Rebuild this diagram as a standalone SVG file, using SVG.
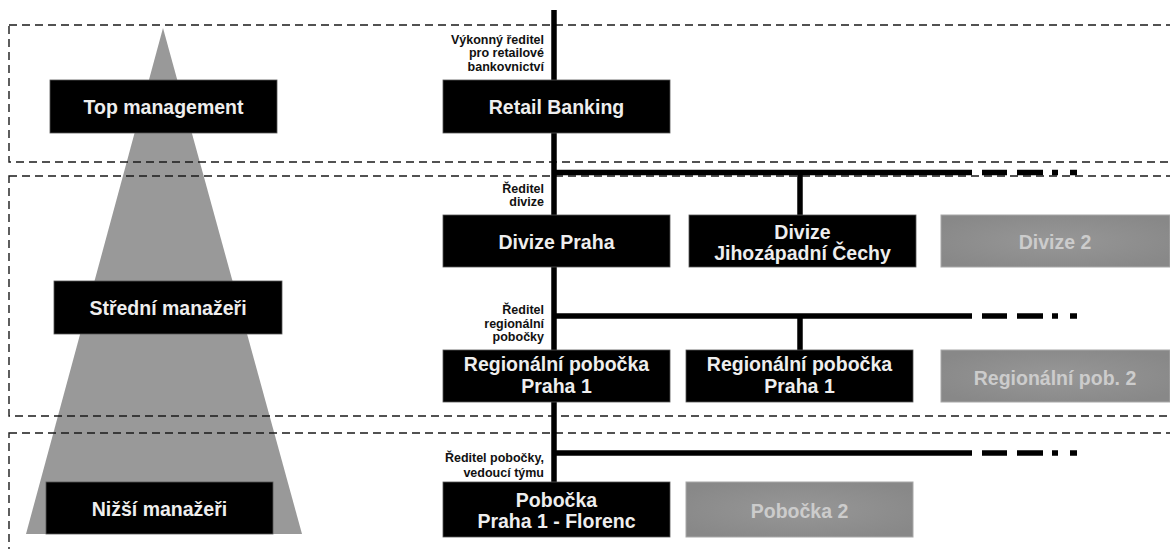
<svg xmlns="http://www.w3.org/2000/svg" width="1170" height="549" viewBox="0 0 1170 549">
<defs>
<radialGradient id="gg" cx="50%" cy="50%" r="60%">
<stop offset="0" stop-color="#979797"/>
<stop offset="1" stop-color="#888888"/>
</radialGradient>
</defs>
<style>
.zone{fill:none;stroke:#1a1a1a;stroke-width:1.4;stroke-dasharray:8 5}
.blk{fill:#000;stroke:#555;stroke-width:0.8}
.gry{fill:url(#gg);stroke:#a8a8a8;stroke-width:1}
.t{font-family:"Liberation Sans",Arial,sans-serif;font-weight:bold;font-size:19.5px;text-anchor:middle;fill:#eeeeee}
.tg{font-family:"Liberation Sans",Arial,sans-serif;font-weight:bold;font-size:19.5px;text-anchor:middle;fill:#cccccc}
.lb{font-family:"Liberation Sans",Arial,sans-serif;font-weight:bold;font-size:12.5px;text-anchor:end;fill:#111}
.ln{stroke:#000;stroke-width:5.5;fill:none}
.ld{stroke:#000;stroke-width:5.5;fill:none;stroke-dasharray:418 10 25 10 26 9 6 12 7 200}
</style>
<g id="pyramid">
<polygon points="163,28 302,534 26,534" fill="#999999"/>
</g>
<g id="zones">
<rect class="zone" x="9" y="25" width="1200" height="137"/>
<rect class="zone" x="9" y="176" width="1200" height="240"/>
<rect class="zone" x="9" y="433" width="1200" height="200"/>
</g>
<g id="connectors">
<line class="ln" x1="554" y1="10" x2="554" y2="482"/>
<line class="ld" x1="554" y1="172.5" x2="1077" y2="172.5"/>
<line class="ln" x1="800" y1="172.5" x2="800" y2="215"/>
<line class="ld" x1="554" y1="316" x2="1077" y2="316"/>
<line class="ln" x1="800" y1="316" x2="800" y2="350"/>
<line class="ld" x1="554" y1="453" x2="1077" y2="453"/>
</g>
<g id="labels">
<text class="lb" x="544" y="43.5">Výkonný ředitel</text>
<text class="lb" x="544" y="57">pro retailové</text>
<text class="lb" x="544" y="71">bankovnictví</text>
<text class="lb" x="544" y="193">Ředitel</text>
<text class="lb" x="544" y="206">divize</text>
<text class="lb" x="544" y="314">Ředitel</text>
<text class="lb" x="544" y="327.5">regionální</text>
<text class="lb" x="544" y="341">pobočky</text>
<text class="lb" x="544" y="462">Ředitel pobočky,</text>
<text class="lb" x="544" y="476.5">vedoucí týmu</text>
</g>
<g id="top-management">
<rect class="blk" x="50" y="80" width="227" height="53"/>
<text class="t" x="163.5" y="114">Top management</text>
</g>
<g id="stredni-manazeri">
<rect class="blk" x="54" y="281" width="228" height="53"/>
<text class="t" x="168" y="315">Střední manažeři</text>
</g>
<g id="nizsi-manazeri">
<rect class="blk" x="46" y="482" width="227" height="52"/>
<text class="t" x="159.5" y="516">Nižší manažeři</text>
</g>
<g id="retail-banking">
<rect class="blk" x="443" y="80" width="227" height="53"/>
<text class="t" x="556.5" y="113.5">Retail Banking</text>
</g>
<g id="divize-praha">
<rect class="blk" x="443" y="215" width="227" height="52"/>
<text class="t" x="556.5" y="249">Divize Praha</text>
</g>
<g id="divize-jihozapadni-cechy">
<rect class="blk" x="689" y="215" width="227" height="52"/>
<text class="t" x="802.5" y="239">Divize</text>
<text class="t" x="802.5" y="260">Jihozápadní Čechy</text>
</g>
<g id="divize-2">
<rect class="gry" x="941" y="215" width="229" height="52"/>
<text class="tg" x="1055" y="249">Divize 2</text>
</g>
<g id="regionalni-pobocka-praha-1-a">
<rect class="blk" x="443" y="350" width="227" height="52"/>
<text class="t" x="556.5" y="371">Regionální pobočka</text>
<text class="t" x="556.5" y="393">Praha 1</text>
</g>
<g id="regionalni-pobocka-praha-1-b">
<rect class="blk" x="686" y="350" width="227" height="52"/>
<text class="t" x="799.5" y="371">Regionální pobočka</text>
<text class="t" x="799.5" y="393">Praha 1</text>
</g>
<g id="regionalni-pob-2">
<rect class="gry" x="941" y="350" width="229" height="52"/>
<text class="tg" x="1055" y="385">Regionální pob. 2</text>
</g>
<g id="pobocka-praha-1-florenc">
<rect class="blk" x="443" y="482" width="227" height="55"/>
<text class="t" x="556.5" y="507">Pobočka</text>
<text class="t" x="556.5" y="528">Praha 1 - Florenc</text>
</g>
<g id="pobocka-2">
<rect class="gry" x="686" y="482" width="227" height="55"/>
<text class="tg" x="799.5" y="518">Pobočka 2</text>
</g>
</svg>
